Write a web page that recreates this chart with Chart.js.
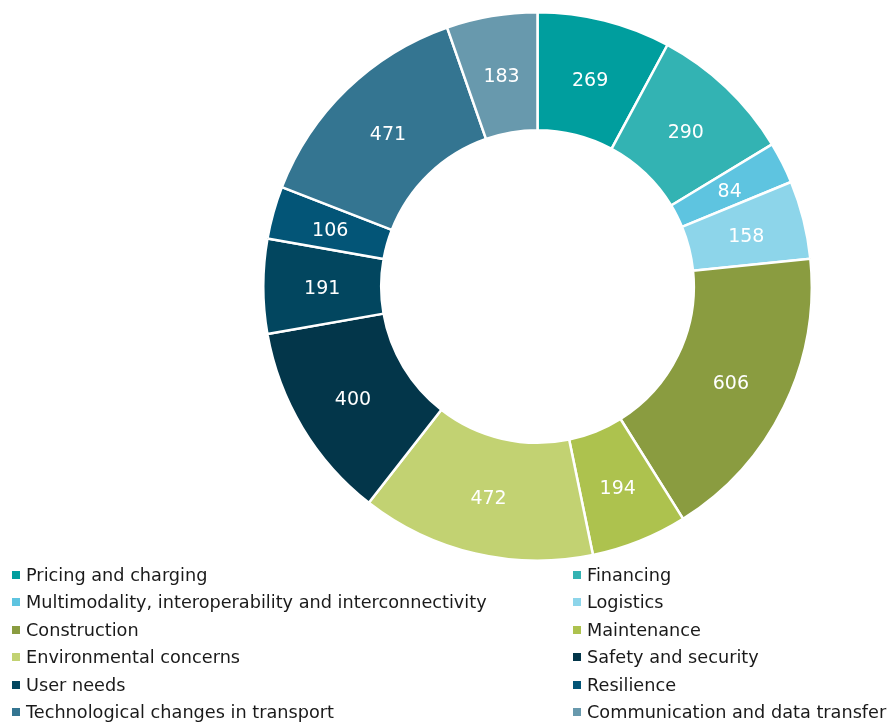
<!DOCTYPE html>
<html>
<head>
<meta charset="utf-8">
<script src="https://cdn.jsdelivr.net/npm/chart.js@4/dist/chart.umd.min.js"></script>
<style>
  html, body { margin: 0; padding: 0; background: #fff; }
  body { width: 891px; height: 722px; position: relative; overflow: hidden; font-family: "DejaVu Sans", sans-serif; }
  .chart-box { position: absolute; left: 261px; top: 11px; width: 553px; height: 551px; }
  .legend { position: absolute; left: 10px; top: 561px; width: 881px; display: grid; grid-template-columns: 561px 320px; }
  .legend-item { height: 27.5px; display: flex; align-items: center; font-size: 17.7px; color: #1a1a1a; white-space: nowrap; }
  .legend-box { width: 8px; height: 8px; margin: 0 6px 0 2px; flex: none; }
</style>
</head>
<body>
<div class="chart-box"><canvas id="topicsChart"></canvas></div>
<div class="legend" id="legend"></div>
<script>
const topics = [
  'Pricing and charging',
  'Financing',
  'Multimodality, interoperability and interconnectivity',
  'Logistics',
  'Construction',
  'Maintenance',
  'Environmental concerns',
  'Safety and security',
  'User needs',
  'Resilience',
  'Technological changes in transport',
  'Communication and data transfer'
];
const counts = [269, 290, 84, 158, 606, 194, 472, 400, 191, 106, 471, 183];
const colours = [
  '#009e9e', '#33b3b3', '#5ec4e0', '#8dd5ea', '#8a9c40', '#adc24e',
  '#c2d272', '#03364a', '#02465f', '#035577', '#347591', '#6899ad'
];

// white value labels in the middle of every slice
const sliceLabels = {
  id: 'sliceLabels',
  afterDatasetsDraw(chart) {
    const ctx = chart.ctx;
    const meta = chart.getDatasetMeta(0);
    ctx.save();
    ctx.fillStyle = '#fff';
    ctx.font = '19px "DejaVu Sans", sans-serif';
    ctx.textAlign = 'center';
    ctx.textBaseline = 'middle';
    meta.data.forEach((arc, i) => {
      const pos = arc.tooltipPosition();
      ctx.fillText(String(chart.data.datasets[0].data[i]), pos.x, pos.y + 3);
    });
    ctx.restore();
  }
};

const chart = new Chart(document.getElementById('topicsChart'), {
  type: 'doughnut',
  data: {
    labels: topics,
    datasets: [{
      data: counts,
      backgroundColor: colours,
      borderColor: '#fff',
      borderWidth: 2.5
    }]
  },
  options: {
    responsive: true,
    maintainAspectRatio: false,
    animation: false,
    cutout: '57%',
    layout: { padding: 0 },
    plugins: {
      legend: { display: false },
      tooltip: { enabled: false }
    }
  },
  plugins: [sliceLabels]
});

// two-column legend below the ring
const legendEl = document.getElementById('legend');
topics.forEach((name, i) => {
  const item = document.createElement('div');
  item.className = 'legend-item';
  const box = document.createElement('span');
  box.className = 'legend-box';
  box.style.background = colours[i];
  const text = document.createElement('span');
  text.textContent = name;
  item.appendChild(box);
  item.appendChild(text);
  legendEl.appendChild(item);
});
</script>
</body>
</html>
